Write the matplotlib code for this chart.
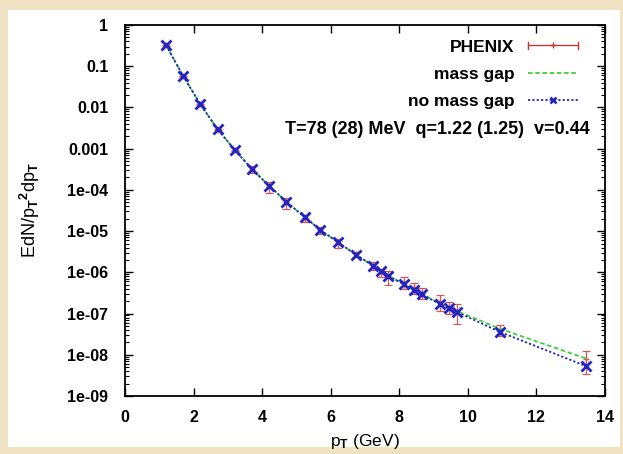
import numpy as np
import matplotlib
matplotlib.use("Agg")
import matplotlib.pyplot as plt
from matplotlib.lines import Line2D
from matplotlib.patches import Rectangle
from matplotlib.legend_handler import HandlerBase

plt.rcParams['font.family'] = ['Liberation Sans', 'DejaVu Sans']
plt.rcParams['font.weight'] = 'bold'
plt.rcParams['mathtext.fontset'] = 'custom'
plt.rcParams['mathtext.rm'] = 'Liberation Sans:bold'
plt.rcParams['mathtext.it'] = 'Liberation Sans:bold'
plt.rcParams['mathtext.bf'] = 'Liberation Sans:bold'

# ---- data ----
pt = [1.2, 1.7, 2.2, 2.7, 3.2, 3.7, 4.2, 4.7, 5.25, 5.7, 6.22, 6.73, 7.24,
      7.48, 7.68, 8.13, 8.43, 8.67, 9.18, 9.45, 9.67, 10.93, 13.45]
phenix_y = [0.32, 0.057, 0.0118, 0.0029, 9.2e-4, 3.2e-4, 1.2e-4, 5.0e-5, 2.1e-5,
            1.05e-5, 5.2e-6, 2.75e-6, 1.48e-6, 1.0e-6, 8.0e-7, 5.9e-7, 4.3e-7,
            3.15e-7, 2.0e-7, 1.45e-7, 1.13e-7, 4.1e-8, 8.0e-9]
phenix_err = [0.01, 0.002, 4e-4, 1e-4, 3e-5, 7e-5, 3.5e-5, 1.5e-5, 4e-6,
              1.8e-6, 1.2e-6, 0.45e-6, 0.32e-6, 0.23e-6, 3.0e-7, 1.9e-7, 1.35e-7,
              0.95e-7, 0.82e-7, 0.45e-7, 0.56e-7, 1.3e-8, 4.5e-9]
mass_gap = [0.32, 0.057, 0.0119, 0.00295, 9.3e-4, 3.2e-4, 1.27e-4, 5.2e-5, 2.15e-5,
            1.06e-5, 5.3e-6, 2.7e-6, 1.44e-6, 1.07e-6, 8.3e-7, 5.15e-7, 3.75e-7,
            2.95e-7, 1.75e-7, 1.38e-7, 1.16e-7, 4.3e-8, 8.1e-9]
no_mass_gap = [0.32, 0.057, 0.0119, 0.00295, 9.3e-4, 3.2e-4, 1.27e-4, 5.2e-5, 2.15e-5,
               1.06e-5, 5.3e-6, 2.7e-6, 1.44e-6, 1.07e-6, 8.3e-7, 5.1e-7, 3.7e-7,
               2.9e-7, 1.7e-7, 1.33e-7, 1.1e-7, 3.6e-8, 5.3e-9]
xticks = [0, 2, 4, 6, 8, 10, 12, 14]
yticks = [1, 0.1, 0.01, 0.001, 1e-4, 1e-5, 1e-6, 1e-7, 1e-8, 1e-9]
ytick_labels = ['1', '0.1', '0.01', '0.001', '1e-04', '1e-05', '1e-06', '1e-07', '1e-08', '1e-09']

RED = '#d25a5a'
GREEN = '#3ccf3c'
BLUE = '#2424c0'

fig = plt.figure(figsize=(6.23, 4.54), dpi=100, facecolor='#efe3c4')
fig.patches.append(Rectangle((8/623, 7/454), 612/623, 437/454, transform=fig.transFigure,
                             facecolor='white', edgecolor='none', zorder=-10))
ax = fig.add_axes([125/623, 1 - 396/454, 480/623, 371/454])
ax.set_facecolor('white')

ax.errorbar(pt, phenix_y, yerr=phenix_err, fmt='+', color=RED, ms=4, lw=0.9,
            capsize=3, capthick=0.9, zorder=2)
ax.plot(pt, mass_gap, color=GREEN, ls=(0, (2.5, 1.5)), lw=1.3, zorder=3)
ax.plot(pt, no_mass_gap, color=BLUE, ls=(0, (1.2, 1.2)), lw=1.3, marker='x',
        ms=6.5, mew=2, zorder=4)

ax.set_yscale('log')
ax.set_xlim(0, 14)
ax.set_ylim(1e-9, 1)
ax.set_xticks(xticks)
ax.set_xticklabels([str(v) for v in xticks])
ax.set_yticks(yticks)
ax.set_yticklabels(ytick_labels)
ax.yaxis.set_minor_locator(matplotlib.ticker.LogLocator(base=10, subs=np.arange(2, 10), numticks=20))
ax.yaxis.set_minor_formatter(matplotlib.ticker.NullFormatter())
ax.tick_params(which='both', direction='in', top=True, right=True, labelsize=11.5)
ax.tick_params(which='major', length=6, width=1)
ax.tick_params(which='minor', length=3, width=0.8)
ax.tick_params(axis='x', pad=10)
ax.tick_params(axis='y', pad=12)
for s in ax.spines.values():
    s.set_linewidth(1.3)

ax.set_xlabel(r'p$_\mathrm{T}$ (GeV)', fontsize=12.5, labelpad=5)
ax.set_ylabel(r'EdN/p$_\mathrm{T}{}^\mathrm{2}$dp$_\mathrm{T}$', fontsize=13, labelpad=18)


class ErrKeyHandler(HandlerBase):
    def create_artists(self, legend, orig_handle, xdescent, ydescent, width, height, fontsize, trans):
        y = height / 2 - ydescent
        x0, x1 = -xdescent, width - xdescent
        h = height * 0.3
        line = Line2D([x0, x1], [y, y], color='#c03a3a', lw=1)
        caps = Line2D([x0, x0, np.nan, x1, x1], [y - h, y + h, np.nan, y - h, y + h], color='#c03a3a', lw=1)
        mid = Line2D([(x0 + x1) / 2], [y], marker='+', color='#c03a3a', ms=4, lw=0)
        for a in (line, caps, mid):
            a.set_transform(trans)
        return [line, caps, mid]


h_ph = Line2D([], [], color=RED)
h_mg = Line2D([], [], color=GREEN, ls=(0, (2.5, 1.5)), lw=1.3)
h_nmg = Line2D([], [], color=BLUE, ls=(0, (1.2, 1.2)), lw=1.3, marker='x', ms=5, mew=1.8)
leg = ax.legend([h_ph, h_mg, h_nmg], ['PHENIX', 'mass gap', 'no mass gap'],
                handler_map={h_ph: ErrKeyHandler()}, loc='upper right',
                bbox_to_anchor=(0.958, 0.98), frameon=False, markerfirst=False,
                handlelength=2.9, handletextpad=0.75, labelspacing=0.7, numpoints=1,
                prop={'size': 12.5, 'weight': 'bold'}, borderaxespad=0)
ax.text(0.969, 0.718, 'T=78 (28) MeV  q=1.22 (1.25)  v=0.44', transform=ax.transAxes,
        ha='right', va='center', fontsize=13, fontweight='bold')

fig.savefig('out.png', dpi=100, facecolor=fig.get_facecolor())
